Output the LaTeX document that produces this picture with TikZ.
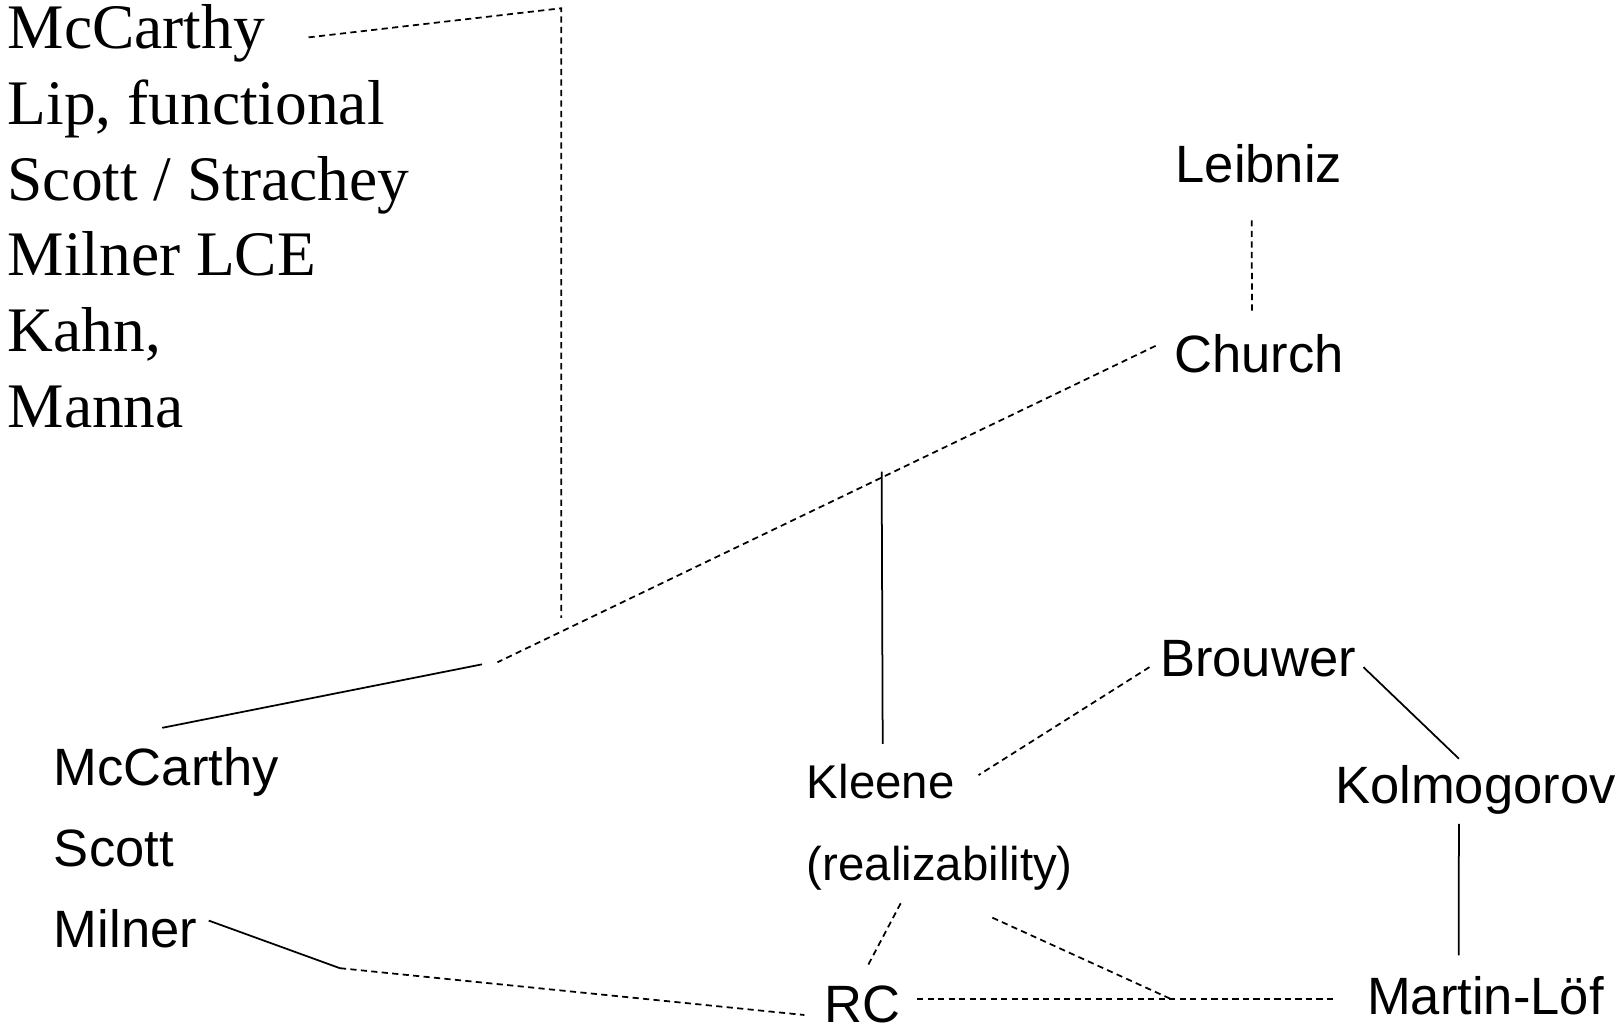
\documentclass[tikz,border=0pt]{standalone}
\usepackage{fontspec}
\setmainfont{Liberation Sans}
\newfontfamily\seriffont{Liberation Serif}
\usetikzlibrary{calc}

\begin{document}
\begin{tikzpicture}[x=0.5pt, y=-0.5pt,
    who/.style={font=\fontsize{25.5}{30}\selectfont, inner sep=0pt, anchor=base west},
    small/.style={who, font=\fontsize{23}{28}\selectfont},
    lisp/.style={font=\seriffont\fontsize{30.8}{36}\selectfont, inner sep=0pt, anchor=base west},
    tie/.style={line width=0.85pt},
    loose/.style={tie, dash pattern=on 3pt off 2.1pt}]
    \useasboundingbox (0,0) rectangle (1568,1001);

    % serif list, top left
    \foreach \t [count=\i] in {McCarthy, {Lip, functional}, {Scott / Strachey}, Milner LCE, {Kahn,}, Manna}
        \node[lisp] (lisp-\i) at (7,{47+73.6*(\i-1)}) {\t};

    \node[who] (leibniz) at (1141,177) {Leibniz};
    \node[who] (church) at (1140,362) {Church};
    \node[who] (brouwer) at (1126,657) {Brouwer};
    \node[who] (kolmo) at (1296,780) {Kolmogorov};
    \node[small] (kleene) at (783,775) {Kleene};
    \node[small] (realiz) at (783,855) {(realizability)};
    \node[who] (mccarthy) at (52,763) {McCarthy};
    \node[who] (scott) at (52,841) {Scott};
    \node[who] (milner) at (52,920) {Milner};
    \node[who] (rc) at (800,993) {RC};
    \node[who] (martin) at (1327,985) {Martin-Löf};

    \coordinate (lispTop) at (545,8);
    \coordinate (lispEnd) at (545,600);
    \coordinate (jA) at (483,643);
    \coordinate (jB) at (468,645);
    \coordinate (kjoin) at (856,458);
    \coordinate (jC) at (1137,970);
    \coordinate (jD) at (330,940);

    % left branch
    \draw[loose] ($(lisp-1.east)+(42,4)$) -- (lispTop) -- (lispEnd);
    \draw[loose] ($(church.west)+(-18,-8)$) -- (jA);
    \draw[tie] (jB) -- ($(mccarthy.north)+(-4,-19)$);
    \draw[tie] (kjoin) -- ($(kleene.north)+(2,-19)$);
    \draw[loose] ($(leibniz.south)+(-7,36)$) -- ($(church.north)+(-7,-23)$);

    % right part
    \draw[loose] ($(brouwer.west)+(-10,8)$) -- ($(kleene.east)+(23,-6)$);
    \draw[tie] ($(brouwer.east)+(7,8)$) -- ($(kolmo.north)+(-16,-6)$);
    \draw[tie] ($(kolmo.south)+(-16,9)$) -- ($(martin.north)+(-26,-20)$);
    \draw[loose] ($(realiz.south)+(-38,12)$) -- ($(rc.north)+(4,-17)$);
    \draw[loose] ($(realiz.south)+(51,26)$) -- (jC);
    \draw[loose] ([xshift=8pt]rc.east |- jC) -- ([xshift=-14.5pt]martin.west |- jC);

    % bottom left
    \draw[tie] ($(milner.east)+(11,-8)$) -- (jD);
    \draw[loose] (jD) -- ($(rc.west)+(-19,10)$);
\end{tikzpicture}
\end{document}
